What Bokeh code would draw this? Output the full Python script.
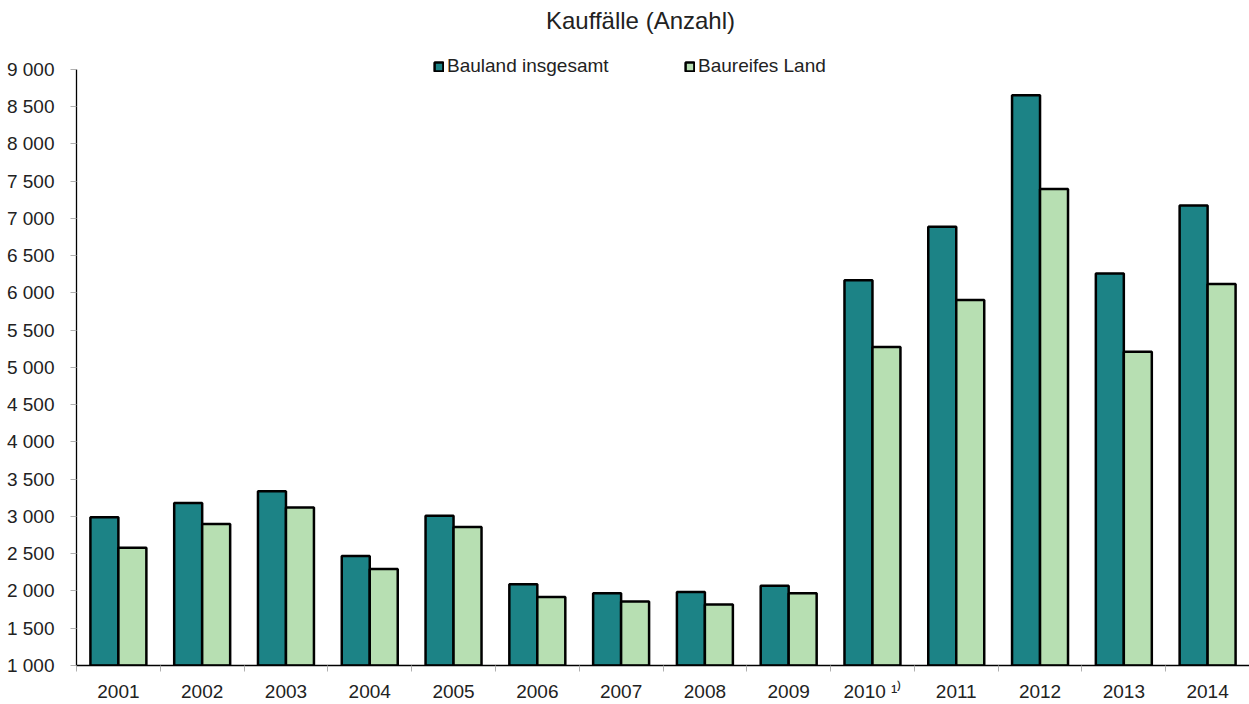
import numpy as np
from bokeh.plotting import figure
from bokeh.models import (Range1d, FixedTicker, Legend, LegendItem, Label, ColumnDataSource)
from bokeh.transform import dodge
from bokeh.embed import file_html
from bokeh.resources import INLINE

years = ["2001", "2002", "2003", "2004", "2005", "2006", "2007", "2008", "2009",
         "2010", "2011", "2012", "2013", "2014"]
year_labels = ["2001", "2002", "2003", "2004", "2005", "2006", "2007", "2008", "2009",
               "2010 \u00b9\u207e", "2011", "2012", "2013", "2014"]
bauland = [2990, 3180, 3340, 2470, 3010, 2090, 1970, 1985, 2070,
           6170, 6890, 8655, 6260, 7175]
baureif = [2580, 2900, 3120, 2295, 2860, 1920, 1860, 1820, 1970,
           5275, 5905, 7395, 5210, 6120]
y_ticks = [1000, 1500, 2000, 2500, 3000, 3500, 4000, 4500, 5000,
           5500, 6000, 6500, 7000, 7500, 8000, 8500, 9000]
y_tick_labels = ["1 000", "1 500", "2 000", "2 500", "3 000", "3 500", "4 000", "4 500", "5 000",
                 "5 500", "6 000", "6 500", "7 000", "7 500", "8 000", "8 500", "9 000"]
series_names = ["Bauland insgesamt", "Baureifes Land"]
title_text = "Kauffälle (Anzahl)"

FONT = "Liberation Sans"
TXT = "#222222"
DARK = "#1c8386"
LIGHT = "#b7dfb2"

xpos = list(range(len(years)))
src = ColumnDataSource(dict(x=xpos, a=bauland, b=baureif))

# frame spans the full height above the axis; y axis itself is bounded to 1 000..9 000
p = figure(width=1249, height=704, output_backend="svg", toolbar_location=None,
           x_range=Range1d(-0.5, len(years) - 0.5), y_range=Range1d(1000, 9925),
           min_border_left=76, min_border_right=0, min_border_top=0, min_border_bottom=38)
p.outline_line_color = None
p.xgrid.visible = False
p.ygrid.visible = False
p.background_fill_color = "white"
p.border_fill_color = "white"

r1 = p.vbar(x=dodge("x", -0.167, range=p.x_range), top="a", bottom=1000, width=0.334,
            source=src, fill_color=DARK, line_color="black", line_width=2.5)
r2 = p.vbar(x=dodge("x", 0.167, range=p.x_range), top="b", bottom=1000, width=0.334,
            source=src, fill_color=LIGHT, line_color="black", line_width=2.5)

# y axis
ya = p.yaxis[0]
ya.bounds = (y_ticks[0], y_ticks[-1])
ya.ticker = FixedTicker(ticks=y_ticks, minor_ticks=[])
ya.major_label_overrides = {t: l for t, l in zip(y_ticks, y_tick_labels)}
ya.axis_line_color = "black"
ya.axis_line_width = 1.3
ya.major_tick_line_color = "#b0b0b0"
ya.major_tick_out = 6
ya.major_tick_in = 0
ya.minor_tick_line_color = None
ya.major_label_text_font = FONT
ya.major_label_text_font_size = "19px"
ya.major_label_text_color = TXT
ya.major_label_standoff = 16

# x axis
xa = p.xaxis[0]
xa.ticker = FixedTicker(ticks=xpos, minor_ticks=[i - 0.5 for i in range(len(years) + 1)])
xa.major_label_overrides = {i: y for i, y in enumerate(year_labels)}
xa.axis_line_color = "black"
xa.axis_line_width = 1.3
xa.major_tick_line_color = None
xa.major_tick_out = 0
xa.major_tick_in = 0
xa.minor_tick_line_color = "#b0b0b0"
xa.minor_tick_out = 6
xa.minor_tick_in = 0
xa.major_label_text_font = FONT
xa.major_label_text_font_size = "19px"
xa.major_label_text_color = TXT
xa.major_label_standoff = 9

# title
p.add_layout(Label(x=564, y=645, x_units="screen", y_units="screen", text=title_text,
                   text_font=FONT, text_font_size="24px", text_color=TXT,
                   text_align="center", text_baseline="middle"))

# legends
for r, name, lx in [(r1, series_names[0], 357), (r2, series_names[1], 608)]:
    lg = Legend(items=[LegendItem(label=name, renderers=[r])], location=(lx, 588),
                orientation="horizontal", padding=0, margin=0, spacing=0,
                glyph_width=11, glyph_height=11, label_standoff=3, label_height=20,
                border_line_color=None, background_fill_alpha=0,
                label_text_font=FONT, label_text_font_size="19px", label_text_color=TXT)
    p.add_layout(lg, "center")

open("out.html", "w").write(file_html(p, INLINE))
